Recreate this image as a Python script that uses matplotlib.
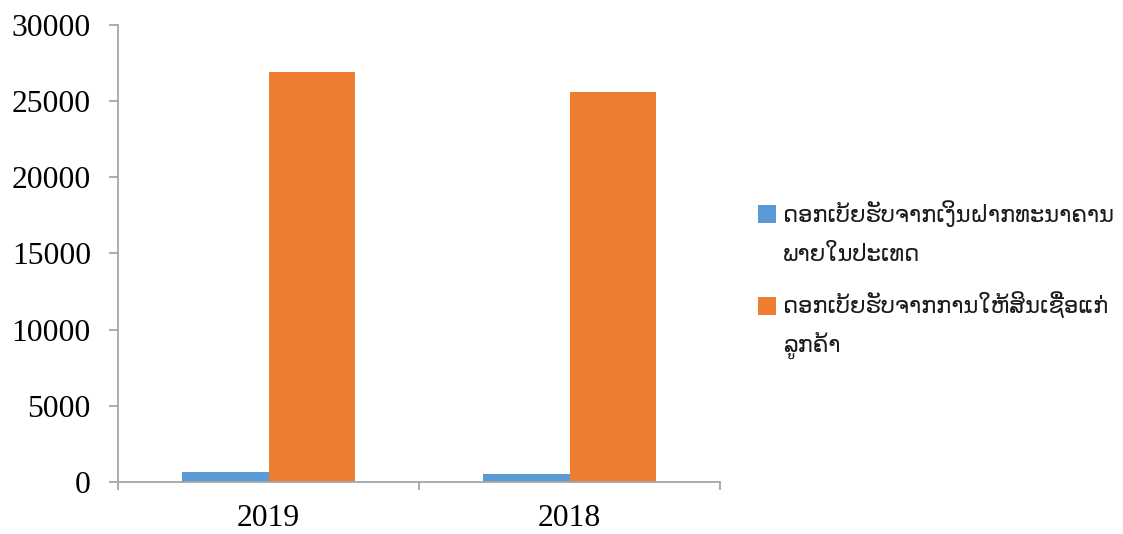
import matplotlib
matplotlib.use("Agg")
import matplotlib.pyplot as plt
from matplotlib.patches import Rectangle
import numpy as np

# data
years = ["2019", "2018"]
deposit_interest = [680, 500]
loan_interest = [26900, 25600]
series_labels = [
    ["ດອກເບ້ຍຮັບຈາກເງິນຝາກທະນາຄານ", "ພາຍໃນປະເທດ"],
    ["ດອກເບ້ຍຮັບຈາກການໃຫ້ສິນເຊື່ອແກ່", "ລູກຄ້າ"],
]
colors = ["#5B9BD5", "#ED7D31"]
axis_gray = "#A6A6A6"

W, H = 1123, 534
fig = plt.figure(figsize=(W / 100, H / 100), dpi=100)
ax = fig.add_axes([118 / W, 1 - 482 / H, (720 - 118) / W, (482 - 25) / H])

x = np.arange(len(years))
w = 0.286
ax.bar(x - w / 2, deposit_interest, width=w, color=colors[0])
ax.bar(x + w / 2, loan_interest, width=w, color=colors[1])

ax.set_xlim(-0.5, len(years) - 0.5)
ax.set_ylim(0, 30000)
ax.set_yticks(range(0, 30001, 5000))
ax.set_xticks(x)
ax.set_xticklabels(years)
ax.set_xticks(np.arange(-0.5, len(years), 1.0), minor=True)

for s in ["top", "right"]:
    ax.spines[s].set_visible(False)
for s in ["left", "bottom"]:
    ax.spines[s].set_color(axis_gray)
    ax.spines[s].set_linewidth(1.3)

serif = "Liberation Serif"
ax.tick_params(axis="y", length=6.5, width=1.3, color=axis_gray, pad=13,
               labelsize=22.8, labelfontfamily=serif)
ax.tick_params(axis="x", which="major", length=0, pad=16,
               labelsize=22.8, labelfontfamily=serif)
ax.tick_params(axis="x", which="minor", length=6, width=1.3, color=axis_gray)

# legend drawn by hand: square next to the first line, wrapped label
renderer = fig.canvas.get_renderer()
probe = fig.text(0, 0, series_labels[0][0], family="DejaVu Sans", size=16)
width_px = probe.get_window_extent(renderer).width
probe.remove()
lao_size = 16 * 332 / width_px

square_tops = [205, 297]
baselines = [[222, 261], [314, 352]]
for c, lines, top, bases in zip(colors, series_labels, square_tops, baselines):
    fig.add_artist(Rectangle((758 / W, 1 - (top + 18) / H), 18 / W, 18 / H,
                             transform=fig.transFigure, facecolor=c,
                             edgecolor="none"))
    for line, b in zip(lines, bases):
        fig.text(783 / W, 1 - b / H, line, family="DejaVu Sans",
                 size=lao_size, va="baseline", ha="left", color="#1a1a1a")

fig.savefig("out.png", dpi=100)
